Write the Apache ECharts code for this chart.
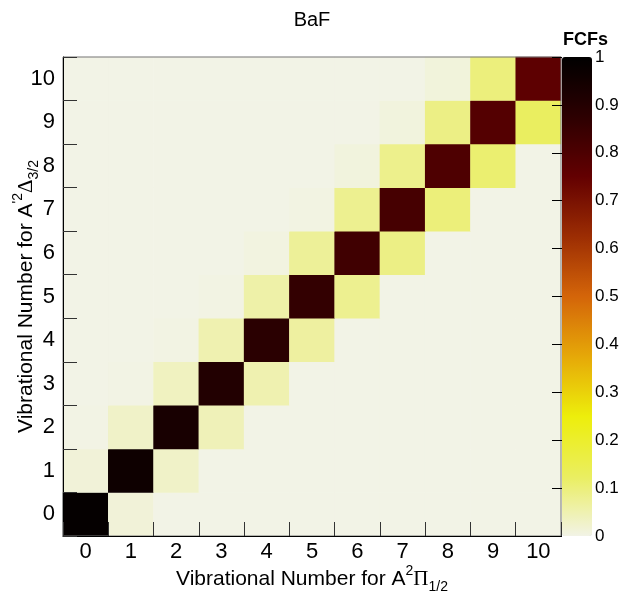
<!DOCTYPE html>
<html>
<head>
<meta charset="utf-8">
<script src="https://cdn.jsdelivr.net/npm/echarts@6/dist/echarts.min.js"></script>
<style>
  html, body { margin: 0; padding: 0; background: #fff; }
  #chart { width: 621px; height: 596px; }
</style>
</head>
<body>
<div id="chart"></div>
<script>
// vibrational levels (v'' on x, v' on y)
var levels = ['0', '1', '2', '3', '4', '5', '6', '7', '8', '9', '10'];
// FCF where v'' = v'
var diag = [0.985, 0.96, 0.933, 0.905, 0.883, 0.861, 0.831, 0.817, 0.798, 0.785, 0.765];
// FCF where v'' = v' + 1 (v' = 0..9)
var above = [0.013, 0.028, 0.043, 0.05, 0.065, 0.08, 0.09, 0.10, 0.109, 0.124];
// FCF where v'' = v' - 1 (v' = 1..10)
var below = [0.013, 0.028, 0.035, 0.05, 0.057, 0.072, 0.08, 0.083, 0.09, 0.098];
// FCF where v'' = v' - 2 (v' = 2..10)
var below2 = [0.002, 0.002, 0.003, 0.003, 0.006, 0.004, 0.008, 0.008, 0.01];
// colour bar ticks
var barMin = 0, barMax = 1, barStep = 0.1;

// inverted dark body radiator
var palette = ['#f2f3e6', '#eaee5f', '#edee0b', '#e6a808', '#d46509', '#9c2d03', '#630001', '#2d0001', '#000000'];

var cells = [];
for (var y = 0; y < levels.length; y++) {
    for (var x = 0; x < levels.length; x++) {
        var v = 0;
        if (x === y) v = diag[y];
        else if (x === y + 1) v = above[y];
        else if (x === y - 1) v = below[y - 1];
        else if (x === y - 2) v = below2[y - 2];
        cells.push([x, y, v]);
    }
}

var font = 'Liberation Sans, Arial, sans-serif';
var nameRich = {
    sup: { fontSize: 14, fontFamily: font, color: '#000', verticalAlign: 'top', lineHeight: 14 },
    sub: { fontSize: 14, fontFamily: font, color: '#000', verticalAlign: 'bottom', lineHeight: 14 },
    greek: { fontSize: 21, fontFamily: 'Liberation Serif, serif', color: '#000', lineHeight: 30 }
};

var chart = echarts.init(document.getElementById('chart'));
var option = {
    animation: false,
    title: {
        text: 'BaF',
        left: 312,
        top: 10,
        textAlign: 'center',
        padding: 0,
        textStyle: { fontSize: 20, fontWeight: 'normal', color: '#000', fontFamily: font }
    },
    graphic: [{
        type: 'text',
        left: 563,
        top: 31,
        style: { text: 'FCFs', fontSize: 18, fontWeight: 'bold', fill: '#000', fontFamily: font }
    }],
    grid: [
        { left: 63, top: 57, width: 498, height: 479, containLabel: false, outerBoundsMode: 'none',
          show: true, backgroundColor: 'transparent', borderColor: '#777', borderWidth: 1, z: 5 },
        { left: 562, top: 57, width: 30, height: 479, containLabel: false, outerBoundsMode: 'none' }
    ],
    xAxis: [{
        type: 'category',
        data: levels,
        gridIndex: 0,
        z: 6,
        axisLine: { show: true, lineStyle: { color: '#000', width: 1 } },
        axisTick: { show: true, inside: true, length: 14, lineStyle: { color: '#333' } },
        axisLabel: { fontSize: 22, color: '#000', fontFamily: font, margin: 5 },
        splitLine: { show: false },
        name: 'Vibrational Number for A{sup|2}{greek|Π}{sub|1/2}',
        nameLocation: 'middle',
        nameMoveOverlap: false,
        nameGap: 28,
        nameTextStyle: { fontSize: 21, color: '#000', fontFamily: font, lineHeight: 30, rich: nameRich }
    }, {
        type: 'value',
        gridIndex: 1,
        show: false
    }],
    yAxis: [{
        type: 'category',
        data: levels,
        gridIndex: 0,
        z: 6,
        axisLine: { show: true, lineStyle: { color: '#000', width: 1 } },
        axisTick: { show: true, inside: true, length: 14, lineStyle: { color: '#333' } },
        axisLabel: { fontSize: 22, color: '#000', fontFamily: font, margin: 8 },
        splitLine: { show: false },
        name: "Vibrational Number for A{sup|'2}{greek|Δ}{sub|3/2}",
        nameLocation: 'middle',
        nameMoveOverlap: false,
        nameGap: 22,
        nameTextStyle: { fontSize: 21, color: '#000', fontFamily: font, lineHeight: 30, rich: nameRich }
    }, {
        type: 'value',
        gridIndex: 1,
        position: 'right',
        z: 6,
        min: barMin,
        max: barMax,
        interval: barStep,
        axisLine: { show: false },
        axisTick: { show: true, inside: true, length: 10, lineStyle: { color: '#000' } },
        axisLabel: { fontSize: 17, color: '#000', fontFamily: font, margin: 3 },
        splitLine: { show: false }
    }],
    visualMap: {
        type: 'continuous',
        seriesIndex: 0,
        min: barMin,
        max: barMax,
        calculable: false,
        left: 562,
        top: 57,
        itemWidth: 30,
        itemHeight: 479,
        padding: 0,
        text: null,
        showLabel: false,
        inRange: { color: palette },
        z: 1
    },
    series: [{
        type: 'heatmap',
        xAxisIndex: 0,
        yAxisIndex: 0,
        data: cells,
        itemStyle: { borderWidth: 0 },
        emphasis: { disabled: true }
    }]
};
chart.setOption(option);
</script>
</body>
</html>
